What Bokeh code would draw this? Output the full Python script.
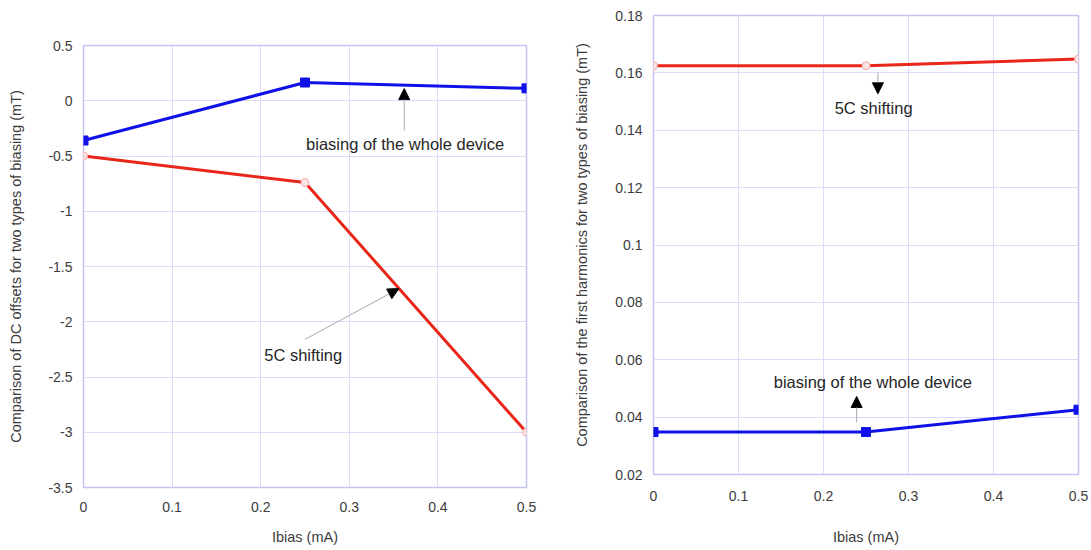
from bokeh.plotting import figure
from bokeh.layouts import row
from bokeh.models import Range1d, FixedTicker, Arrow, NormalHead, Label
from bokeh.embed import file_html
from bokeh.resources import INLINE

# ---------------- data ----------------
ibias = [0.0, 0.25, 0.5]

# left panel: DC offsets (mT)
dc_whole = [-0.36, 0.165, 0.112]
dc_5c = [-0.50, -0.74, -3.00]

# right panel: first harmonics (mT)
h1_5c = [0.1625, 0.1625, 0.1648]
h1_whole = [0.0348, 0.0348, 0.0426]

x_ticks = [0, 0.1, 0.2, 0.3, 0.4, 0.5]
x_labels = ["0", "0.1", "0.2", "0.3", "0.4", "0.5"]
left_y_ticks = [-3.5, -3, -2.5, -2, -1.5, -1, -0.5, 0, 0.5]
left_y_labels = ["-3.5", "-3", "-2.5", "-2", "-1.5", "-1", "-0.5", "0", "0.5"]
right_y_ticks = [0.02, 0.04, 0.06, 0.08, 0.1, 0.12, 0.14, 0.16, 0.18]
right_y_labels = ["0.02", "0.04", "0.06", "0.08", "0.1", "0.12", "0.14", "0.16", "0.18"]

x_title = "Ibias (mA)"
left_y_title = "Comparison of DC offsets for two types of biasing (mT)"
right_y_title = "Comparison of the first harmonics for two types of biasing (mT)"
label_whole = "biasing of the whole device"
label_5c = "5C shifting"

# ---------------- style ----------------
FONT = "Liberation Sans"
GRID = "#dcdcfa"
OUTLINE = "#c4c4f2"
BLUE = "#1010e8"
RED = "#e8261a"
TICK_COL = "#3c3c3c"
TXT_COL = "#262626"


def style(p, xt, xl, yt, yl, ylab_standoff, xlab_standoff, xtick_standoff):
    p.xaxis.ticker = FixedTicker(ticks=xt)
    p.yaxis.ticker = FixedTicker(ticks=yt)
    p.xaxis.major_label_overrides = {t: l for t, l in zip(xt, xl)}
    p.yaxis.major_label_overrides = {t: l for t, l in zip(yt, yl)}
    for ax in (p.xaxis[0], p.yaxis[0]):
        ax.axis_line_color = None
        ax.major_tick_line_color = None
        ax.minor_tick_line_color = None
        ax.major_tick_out = 0
        ax.major_tick_in = 0
        ax.major_label_text_font = FONT
        ax.major_label_text_font_size = "14px"
        ax.major_label_text_color = TICK_COL
        ax.axis_label_text_font = FONT
        ax.axis_label_text_font_size = "14.5px"
        ax.axis_label_text_font_style = "normal"
        ax.axis_label_text_color = TICK_COL
    p.yaxis.major_label_standoff = 11
    p.xaxis.major_label_standoff = xtick_standoff
    p.yaxis.axis_label_standoff = ylab_standoff
    p.xaxis.axis_label_standoff = xlab_standoff
    p.xgrid.grid_line_color = GRID
    p.ygrid.grid_line_color = GRID
    p.xgrid.ticker = FixedTicker(ticks=xt)
    p.ygrid.ticker = FixedTicker(ticks=yt)
    p.outline_line_color = OUTLINE
    p.outline_line_width = 1.5
    p.background_fill_color = "white"
    p.border_fill_color = "white"


# ---------------- left panel ----------------
p1 = figure(output_backend="svg", toolbar_location=None,
            frame_width=443, frame_height=442,
            min_border_left=83, min_border_right=19,
            min_border_top=45, min_border_bottom=63,
            frame_align=False,
            x_range=Range1d(0, 0.5), y_range=Range1d(-3.5, 0.5),
            x_axis_label=x_title, y_axis_label=left_y_title)
style(p1, x_ticks, x_labels, left_y_ticks, left_y_labels, 21, 14, 14)

p1.line(ibias, dc_5c, line_color=RED, line_width=3)
p1.scatter(ibias, dc_5c, marker="circle", size=8, fill_color="#fbe4e4",
           line_color="#f2a8a8", line_width=1)
p1.line(ibias, dc_whole, line_color=BLUE, line_width=3)
p1.scatter(ibias, dc_whole, marker="square", size=9, fill_color=BLUE,
           line_color=BLUE)

p1.add_layout(Arrow(end=NormalHead(size=11, fill_color="black", line_color="black"),
                    x_start=0.362, y_start=-0.27, x_end=0.362, y_end=0.11,
                    line_color="#a8a8a8", line_width=1))
p1.add_layout(Label(x=0.363, y=-0.39, text=label_whole, text_align="center",
                    text_baseline="middle", text_font=FONT,
                    text_font_size="16.5px", text_color=TXT_COL))
p1.add_layout(Arrow(end=NormalHead(size=11, fill_color="black", line_color="black"),
                    x_start=0.250, y_start=-2.16, x_end=0.356, y_end=-1.70,
                    line_color="#a8a8a8", line_width=1))
p1.add_layout(Label(x=0.248, y=-2.30, text=label_5c, text_align="center",
                    text_baseline="middle", text_font=FONT,
                    text_font_size="16.5px", text_color=TXT_COL))

# ---------------- right panel ----------------
p2 = figure(output_backend="svg", toolbar_location=None,
            frame_width=425, frame_height=459,
            min_border_left=108, min_border_right=13,
            min_border_top=15, min_border_bottom=76,
            frame_align=False,
            x_range=Range1d(0, 0.5), y_range=Range1d(0.02, 0.18),
            x_axis_label=x_title, y_axis_label=right_y_title)
style(p2, x_ticks, x_labels, right_y_ticks, right_y_labels, 22, 25, 16)

p2.line(ibias, h1_5c, line_color=RED, line_width=3)
p2.scatter(ibias, h1_5c, marker="circle", size=8, fill_color="#fbe4e4",
           line_color="#f2a8a8", line_width=1)
p2.line(ibias, h1_whole, line_color=BLUE, line_width=3)
p2.scatter(ibias, h1_whole, marker="square", size=9, fill_color=BLUE,
           line_color=BLUE)

p2.add_layout(Arrow(end=NormalHead(size=11, fill_color="black", line_color="black"),
                    x_start=0.264, y_start=0.1601, x_end=0.264, y_end=0.1527,
                    line_color="#a8a8a8", line_width=1))
p2.add_layout(Label(x=0.259, y=0.1476, text=label_5c, text_align="center",
                    text_baseline="middle", text_font=FONT,
                    text_font_size="16.5px", text_color=TXT_COL))
p2.add_layout(Arrow(end=NormalHead(size=11, fill_color="black", line_color="black"),
                    x_start=0.239, y_start=0.0382, x_end=0.239, y_end=0.0472,
                    line_color="#a8a8a8", line_width=1))
p2.add_layout(Label(x=0.258, y=0.0521, text=label_whole, text_align="center",
                    text_baseline="middle", text_font=FONT,
                    text_font_size="16.5px", text_color=TXT_COL))

layout = row(p1, p2)
open("out.html", "w").write(file_html(layout, INLINE))
